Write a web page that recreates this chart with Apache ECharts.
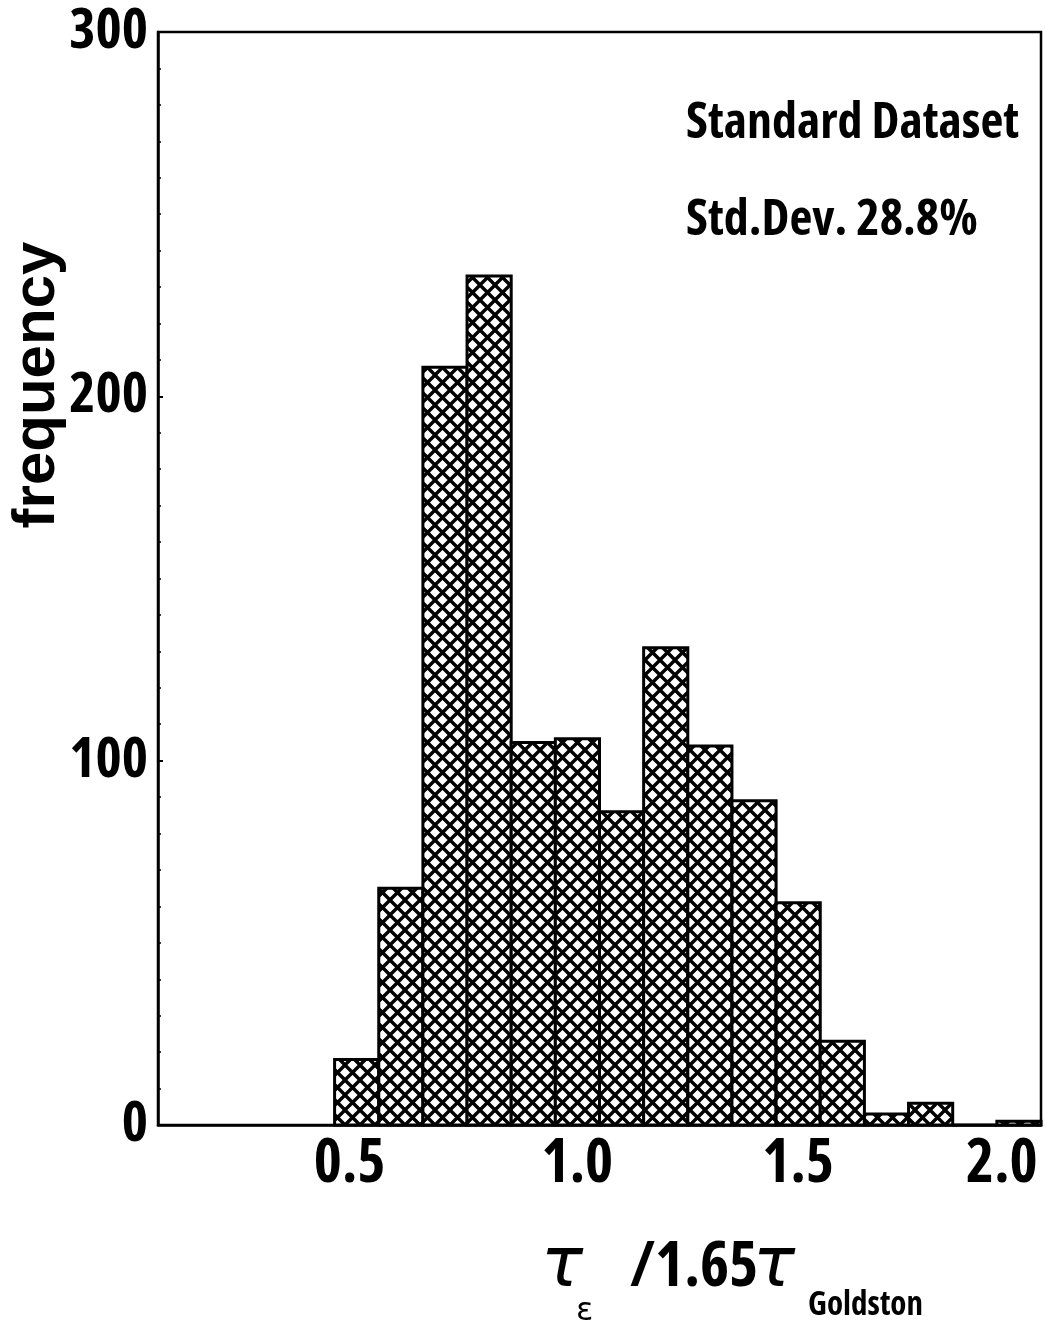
<!DOCTYPE html>
<html>
<head>
<meta charset="utf-8">
<script src="https://cdn.jsdelivr.net/npm/echarts@6/dist/echarts.min.js"></script>
<style>
  html, body { margin: 0; padding: 0; background: #fff; }
  #main { width: 1045px; height: 1331px; }
</style>
</head>
<body>
<div id="main"></div>
<script>
(function(){
    // histogram bins (centres) and counts
    var binCenters = [0.5, 0.6, 0.7, 0.8, 0.9, 1.0, 1.1, 1.2, 1.3, 1.4, 1.5, 1.6, 1.7, 1.8, 1.9, 2.0];
    var counts     = [18, 65, 208, 233, 105, 106, 86, 131, 104, 89, 61, 23, 3, 6, 0, 1];
    var binWidth = 0.1;

    var xTicks = [0.5, 1.0, 1.5, 2.0];
    var yTicks = [0, 100, 200, 300];

    var narrow = "'Open Sans', 'Liberation Sans', sans-serif";

    // cross-hatch fill
    var P = 15;
    var hatch = document.createElement('canvas');
    hatch.width = P; hatch.height = P;
    var ctx = hatch.getContext('2d');
    ctx.fillStyle = '#fff';
    ctx.fillRect(0, 0, P, P);
    ctx.strokeStyle = '#000';
    ctx.lineWidth = 3.4;
    for (var k = -1; k <= 1; k++) {
        ctx.beginPath();
        ctx.moveTo(k * P, 0); ctx.lineTo(k * P + P, P);
        ctx.moveTo(k * P + P, 0); ctx.lineTo(k * P, P);
        ctx.stroke();
    }

    var data = binCenters.map(function (c, i) { return [c, counts[i]]; });

    var myChart = echarts.init(document.getElementById('main'));

    var option = {
        animation: false,
        backgroundColor: '#fff',
        grid: {
            left: 158, right: 4, top: 32, bottom: 206,
            outerBoundsMode: 'none',
            show: true, borderColor: '#000', borderWidth: 2.5
        },
        xAxis: {
            type: 'value',
            min: 0.05,
            max: 2.05,
            axisLine: { show: true, lineStyle: { color: '#000', width: 2.5 } },
            axisTick: { show: false },
            splitLine: { show: false },
            axisLabel: {
                customValues: xTicks,
                formatter: function (v) {
                    var s = v.toFixed(1);
                    if (v === 0.5) return '{l|' + s + '}';
                    if (v === 2.0) return '{r|' + s + '}';
                    return s;
                },
                color: '#000',
                fontStyle: 'condensed',
                fontFamily: narrow,
                fontWeight: 'bold',
                fontSize: 60,
                margin: 10,
                rich: {
                    l: { fontStyle: 'condensed', fontFamily: narrow, fontWeight: 'bold', fontSize: 60, color: '#000', padding: [0, 14, 0, 0] },
                    r: { fontStyle: 'condensed', fontFamily: narrow, fontWeight: 'bold', fontSize: 60, color: '#000', padding: [0, 34, 0, 0] }
                }
            }
        },
        yAxis: {
            type: 'value',
            min: yTicks[0],
            max: yTicks[yTicks.length - 1],
            interval: 100,
            axisLine: { show: true, lineStyle: { color: '#000', width: 2.5 } },
            axisTick: { show: true, inside: true, length: 5, lineStyle: { color: '#000', width: 2 } },
            minorTick: { show: true, splitNumber: 10, length: 3, lineStyle: { color: '#000', width: 1.5 } },
            splitLine: { show: false },
            axisLabel: {
                color: '#000',
                fontStyle: 'condensed',
                fontFamily: narrow,
                fontWeight: 'bold',
                fontSize: 56,
                margin: 10
            }
        },
        series: [{
            type: 'custom',
            data: data,
            renderItem: function (params, api) {
                var c = api.value(0);
                var top = api.coord([c - binWidth / 2, api.value(1)]);
                var bot = api.coord([c + binWidth / 2, 0]);
                return {
                    type: 'rect',
                    shape: { x: top[0], y: top[1], width: bot[0] - top[0], height: bot[1] - top[1] },
                    style: {
                        fill: { image: hatch, repeat: 'repeat' },
                        stroke: '#000',
                        lineWidth: 3
                    }
                };
            }
        }],
        graphic: [
            {
                type: 'text', x: 37, y: 385, rotation: Math.PI / 2,
                style: {
                    text: 'frequency', fill: '#000',
                    font: "bold 60px 'Liberation Sans', Arial, sans-serif",
                    align: 'center', verticalAlign: 'middle'
                }
            },
            {
                type: 'text', x: 686, y: 124,
                style: {
                    text: 'Standard Dataset', fill: '#000',
                    font: 'condensed bold 50px ' + narrow,
                    align: 'left', verticalAlign: 'middle'
                }
            },
            {
                type: 'text', x: 686, y: 221,
                style: {
                    text: 'Std.Dev. 28.8%', fill: '#000',
                    font: 'condensed bold 50px ' + narrow,
                    align: 'left', verticalAlign: 'middle'
                }
            },
            // x axis title: tau_eps / 1.65 tau_Goldston
            {
                type: 'text', x: 541, y: 1268,
                style: { text: 'τ', fill: '#000', font: "italic 70px 'DejaVu Sans', sans-serif", align: 'left', verticalAlign: 'middle' }
            },
            {
                type: 'text', x: 576, y: 1312,
                style: { text: 'ε', fill: '#000', font: "32px 'DejaVu Sans', sans-serif", align: 'left', verticalAlign: 'middle' }
            },
            {
                type: 'text', x: 630, y: 1268,
                style: { text: '/1.65', fill: '#000', font: 'condensed bold 62px ' + narrow, align: 'left', verticalAlign: 'middle' }
            },
            {
                type: 'text', x: 753, y: 1268,
                style: { text: 'τ', fill: '#000', font: "italic 70px 'DejaVu Sans', sans-serif", align: 'left', verticalAlign: 'middle' }
            },
            {
                type: 'text', x: 808, y: 1306,
                style: { text: 'Goldston', fill: '#000', font: 'condensed bold 33px ' + narrow, align: 'left', verticalAlign: 'middle' }
            }
        ]
    };

    myChart.setOption(option);
})()
</script>
</body>
</html>
